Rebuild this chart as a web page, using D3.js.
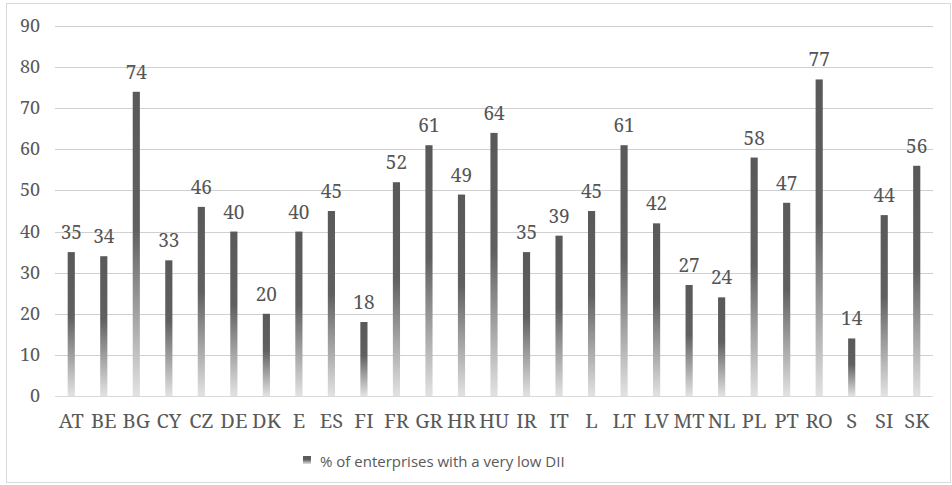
<!DOCTYPE html>
<html><head><meta charset="utf-8">
<script src="https://cdn.jsdelivr.net/npm/d3@7"></script>
<style>body{margin:0;background:#fff}svg{display:block}
.serif{font-family:"Noto Serif","Noto Serif CJK SC","Noto Serif CJK JP","Tinos","FreeSerif","Liberation Serif","DejaVu Serif",serif}</style>
</head><body>
<script>
const categories = ["AT","BE","BG","CY","CZ","DE","DK","E","ES","FI","FR","GR","HR","HU","IR","IT","L","LT","LV","MT","NL","PL","PT","RO","S","SI","SK"];
const values = [35,34,74,33,46,40,20,40,45,18,52,61,49,64,35,39,45,61,42,27,24,58,47,77,14,44,56];
const yTicks = [0,10,20,30,40,50,60,70,80,90];
const seriesName = "% of enterprises with a very low DII";

const W = 952, H = 485;
const svg = d3.select("body").append("svg").attr("width", W).attr("height", H);

svg.append("rect").attr("x",6.5).attr("y",3.5).attr("width",W-8).attr("height",H-6)
  .attr("fill","#fff").attr("stroke","#d9d9d9");

const defs = svg.append("defs");
const g = defs.append("linearGradient").attr("id","barGrad").attr("x1",0).attr("y1",0).attr("x2",0).attr("y2",1);
g.append("stop").attr("offset","0%").attr("stop-color","#595959");
g.append("stop").attr("offset","45%").attr("stop-color","#606060");
g.append("stop").attr("offset","100%").attr("stop-color","#e2e2e2");

const x = d3.scaleBand().domain(categories).range([55,933]).paddingInner(0.78).paddingOuter(0.39);
const y = d3.scaleLinear().domain([0,90]).range([396,26]);

const grid = svg.append("g");
grid.selectAll("line").data(yTicks).join("line")
  .attr("x1",55).attr("x2",933).attr("y1",d=>Math.round(y(d))+0.5).attr("y2",d=>Math.round(y(d))+0.5)
  .attr("stroke",(d)=> d===0 ? "#d9d9d9" : "#d0d0d0").attr("stroke-width",1);

svg.append("g").selectAll("text").data(yTicks).join("text")
  .attr("class","serif")
  .attr("x",40).attr("y",d=>y(d)+6).attr("text-anchor","end")
  .attr("font-size",18).attr("fill","#595959")
  .text(d=>d);

svg.append("g").selectAll("rect").data(values).join("rect")
  .attr("x",(d,i)=>x(categories[i])).attr("width",x.bandwidth())
  .attr("y",d=>y(d)).attr("height",d=>y(0)-y(d))
  .attr("fill","url(#barGrad)");

svg.append("g").selectAll("text").data(values).join("text")
  .attr("class","serif")
  .attr("x",(d,i)=>x(categories[i])+x.bandwidth()/2).attr("y",d=>y(d)-13)
  .attr("text-anchor","middle")
  .attr("font-size",19).attr("fill","#555555")
  .text(d=>d);

svg.append("g").selectAll("text").data(categories).join("text")
  .attr("class","serif")
  .attr("x",d=>x(d)+x.bandwidth()/2).attr("y",428)
  .attr("text-anchor","middle")
  .attr("font-size",20).attr("fill","#595959")
  .text(d=>d);

const lg = svg.append("g");
lg.append("rect").attr("x",303).attr("y",456).attr("width",8).attr("height",8).attr("fill","url(#barGrad)");
lg.append("text").attr("x",320).attr("y",467)
  .attr("font-family","'Open Sans', sans-serif").attr("font-size",15).attr("fill","#595959")
  .text(seriesName);
</script>
</body></html>
